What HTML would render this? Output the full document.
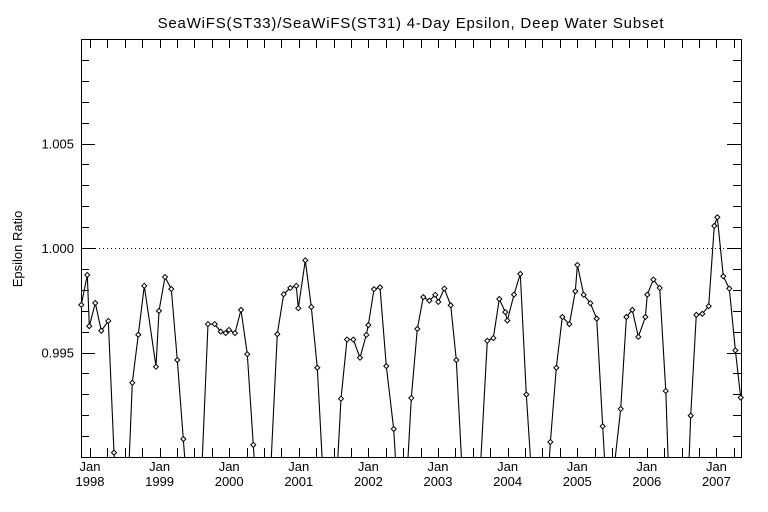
<!DOCTYPE html>
<html><head><meta charset="utf-8"><style>
html,body{margin:0;padding:0;background:#fff;width:768px;height:512px;overflow:hidden;}
svg{display:block;}
svg text{font-family:"Liberation Sans",sans-serif;fill:#000;}
</style></head><body>
<svg id="chart" width="768" height="512" viewBox="0 0 768 512" xmlns="http://www.w3.org/2000/svg">
<rect width="768" height="512" fill="#fff"/>
<text x="411" y="28" font-size="15" text-anchor="middle" letter-spacing="0.8">SeaWiFS(ST33)/SeaWiFS(ST31) 4-Day Epsilon, Deep Water Subset</text>
<text transform="translate(22,249) rotate(-90)" font-size="13" text-anchor="middle">Epsilon Ratio</text>
<g id="axes"></g>
<g id="series"></g>
</svg>
<script>
const times=[1997.875,1997.961,1997.990,1998.076,1998.162,1998.263,1998.345,1998.460,1998.608,1998.694,1998.780,1998.948,1998.991,1999.078,1999.168,1999.254,1999.341,1999.523,1999.695,1999.792,1999.878,1999.950,1999.997,2000.083,2000.170,2000.260,2000.346,2000.500,2000.691,2000.783,2000.878,2000.964,2000.993,2001.093,2001.180,2001.266,2001.448,2001.606,2001.693,2001.783,2001.879,2001.970,2001.999,2002.080,2002.167,2002.257,2002.364,2002.483,2002.616,2002.703,2002.789,2002.875,2002.961,2003.004,2003.091,2003.182,2003.263,2003.474,2003.708,2003.795,2003.881,2003.967,2003.996,2004.092,2004.182,2004.269,2004.466,2004.614,2004.700,2004.786,2004.887,2004.973,2005.002,2005.093,2005.188,2005.280,2005.366,2005.443,2005.625,2005.707,2005.792,2005.878,2005.979,2006.007,2006.094,2006.185,2006.272,2006.451,2006.631,2006.711,2006.797,2006.889,2006.970,2007.013,2007.099,2007.185,2007.272,2007.349];
const values=[0.99728,0.99871,0.99626,0.99737,0.99604,0.99651,0.99021,0.98142,0.99355,0.99585,0.99819,0.99432,0.99699,0.99861,0.99804,0.99464,0.99086,0.98286,0.99636,0.99636,0.99600,0.99593,0.99608,0.99593,0.99704,0.99492,0.99058,0.98281,0.99588,0.99779,0.99809,0.99819,0.99712,0.99941,0.99718,0.99427,0.98290,0.99279,0.99562,0.99562,0.99475,0.99584,0.99631,0.99803,0.99812,0.99435,0.99134,0.98472,0.99282,0.99613,0.99765,0.99748,0.99776,0.99742,0.99806,0.99726,0.99464,0.98123,0.99556,0.99569,0.99756,0.99693,0.99653,0.99777,0.99876,0.99299,0.98295,0.99072,0.99427,0.99670,0.99636,0.99793,0.99919,0.99776,0.99736,0.99662,0.99147,0.98691,0.99230,0.99670,0.99704,0.99575,0.99670,0.99777,0.99849,0.99809,0.99316,0.97588,0.99198,0.99680,0.99685,0.99722,1.00106,1.00147,0.99865,0.99806,0.99510,0.99284];
const yTickValues=[0.995,1.000,1.005];
const yTickLabels=["0.995","1.000","1.005"];
const xYears=[1998,1999,2000,2001,2002,2003,2004,2005,2006,2007];

const L=81,R=741,T=39,B=457,t0=1997.871,t1=2007.353,v0=0.990,v1=1.010;
const X=t=>L+(t-t0)/(t1-t0)*(R-L);
const Y=v=>B-(v-v0)/(v1-v0)*(B-T);
const NS="http://www.w3.org/2000/svg";
function mk(tag,attrs,parent){const e=document.createElementNS(NS,tag);for(const k in attrs)e.setAttribute(k,attrs[k]);parent.appendChild(e);return e;}
const axes=document.getElementById('axes');
const frame=mk('rect',{x:L+0.5,y:T+0.5,width:R-L,height:B-T,fill:'none',stroke:'#000','stroke-width':1},axes);


for(let i=0;i<=20;i++){
  const v=v0+i*0.001, y=Math.round(Y(v))+0.5, major=(i%5===0);
  const len=major?14:8;
  const t1e=mk('line',{x1:L,x2:L+len,y1:y,y2:y,stroke:'#000'},axes);
  
  
  const t2e=mk('line',{x1:R,x2:R-len,y1:y,y2:y,stroke:'#000'},axes);
  
  
}
yTickValues.forEach((v,i)=>{
  const tx=mk('text',{x:74,y:Y(v)+5,'font-size':13,'text-anchor':'end'},axes);
  tx.textContent=yTickLabels[i];
  
  
});
for(let yr=1997;yr<=2007;yr++){for(let q=0;q<4;q++){
  const t=yr+q/4; if(t<t0||t>t1)continue;
  const x=Math.round(X(t))+0.5;
  const a=mk('line',{x1:x,x2:x,y1:B,y2:B-9,stroke:'#000'},axes);
  
  
  const b=mk('line',{x1:x,x2:x,y1:T,y2:T+9,stroke:'#000'},axes);
  
  
}}
xYears.forEach(yr=>{
  const x=X(yr);
  const a=mk('text',{x:x,y:471,'font-size':13,'text-anchor':'middle'},axes);a.textContent='Jan';
  
  
  const b=mk('text',{x:x,y:486,'font-size':13,'text-anchor':'middle'},axes);b.textContent=String(yr);
  
  
});
const ref=mk('line',{x1:95,x2:727,y1:Math.round(Y(1))+0.5,y2:Math.round(Y(1))+0.5,stroke:'#000','stroke-dasharray':'1 3'},axes);


const g=document.getElementById('series');
mk('clipPath',{id:'clip'},g).appendChild(document.createElementNS(NS,'rect'));
const cr=g.querySelector('#clip rect');cr.setAttribute('x',L);cr.setAttribute('y',T);cr.setAttribute('width',R-L);cr.setAttribute('height',B-T);
const pts=times.map((t,i)=>X(t).toFixed(1)+','+Y(values[i]).toFixed(1)).join(' ');
const line=mk('polyline',{points:pts,fill:'none',stroke:'#000','stroke-width':1.1,'clip-path':'url(#clip)'},g);


times.forEach((t,i)=>{
  const x=X(t),y=Y(values[i]);
  if(y>B||y<T||x<L||x>R+1)return;
  const d=mk('polygon',{points:`${x},${y-2.5} ${x+2.5},${y} ${x},${y+2.5} ${x-2.5},${y}`,fill:'#fff',stroke:'#000','stroke-width':1},g);
  
  
});
</script>
</body></html>
